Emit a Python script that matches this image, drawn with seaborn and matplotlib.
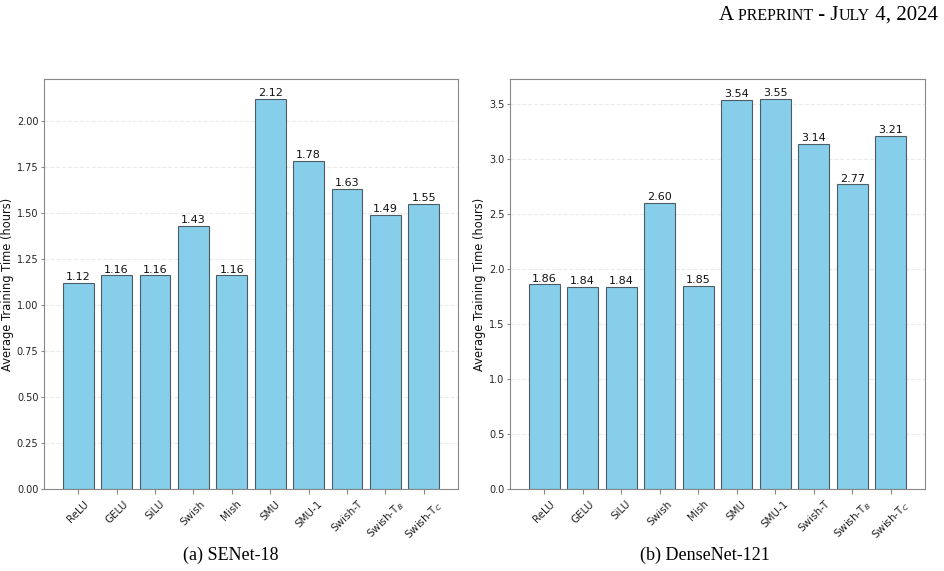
import pandas as pd
import matplotlib
matplotlib.use('Agg')
import matplotlib.pyplot as plt
import seaborn as sns

# activation functions and average training time (hours)
activations = ['ReLU', 'GELU', 'SiLU', 'Swish', 'Mish', 'SMU', 'SMU-1',
               'Swish-T', 'Swish-T$_B$', 'Swish-T$_C$']
senet18_hours = [1.12, 1.16, 1.16, 1.43, 1.16, 2.12, 1.78, 1.63, 1.49, 1.55]
densenet121_hours = [1.86, 1.84, 1.84, 2.60, 1.85, 3.54, 3.55, 3.14, 2.77, 3.21]
captions = ['(a) SENet-18', '(b) DenseNet-121']

plt.rcParams['font.family'] = ['DejaVu Sans']
plt.rcParams['axes.edgecolor'] = '#888888'
plt.rcParams['xtick.color'] = '#888888'
plt.rcParams['ytick.color'] = '#888888'
plt.rcParams['xtick.labelcolor'] = '#222222'
plt.rcParams['ytick.labelcolor'] = '#222222'

fig = plt.figure(figsize=(9.44, 5.71), dpi=100)
W, H = 944, 571
# axes boxes in pixels: left, right
boxes = [(44, 458), (510, 925)]
top, bottom = 79, 489
caption_x = [231, 705]

for (x0, x1), hours, cap, cx in zip(boxes, [senet18_hours, densenet121_hours], captions, caption_x):
    ax = fig.add_axes([x0 / W, (H - bottom) / H, (x1 - x0) / W, (bottom - top) / H])
    df = pd.DataFrame({'act': activations, 'hours': hours})
    sns.barplot(data=df, x='act', y='hours', ax=ax, color='#87CEEB', saturation=1,
                edgecolor=(0, 0, 0, 0.6), linewidth=0.8, width=0.8, errorbar=None)
    ax.bar_label(ax.containers[0], fmt='{:.2f}', fontsize=8, padding=0.5, color='#111111')
    ax.set_xlim(-0.89, 9.89)
    ax.set_ylim(0, max(hours) * 1.05)
    ax.set_axisbelow(True)
    ax.grid(axis='y', linestyle='--', alpha=0.25)
    ax.set_xlabel('')
    ax.set_ylabel('Average Training Time (hours)', fontsize=8.3, color='#111111', labelpad=2)
    ax.tick_params(axis='x', labelrotation=45, labelsize=7.5)
    ax.tick_params(axis='y', labelsize=7, length=2.5, pad=1.5)
    fig.text(cx / W, (H - 555) / H, cap, ha='center', va='center',
             fontsize=13, family='Liberation Serif')

# header in small caps
pieces = [('A', 15), (' PREPRINT', 11.5), (' - J', 15), ('ULY', 11.5), (' 4, 2024', 15)]
fig.canvas.draw()
renderer = fig.canvas.get_renderer()
widths = []
for s, size in pieces:
    t = fig.text(0, 0, s, fontsize=size, family='Liberation Serif')
    widths.append(t.get_window_extent(renderer).width)
    t.remove()
x = 938 - sum(widths)
for (s, size), w in zip(pieces, widths):
    fig.text(x / W, (H - 20) / H, s, fontsize=size, family='Liberation Serif',
             ha='left', va='baseline')
    x += w

fig.savefig('out.png', dpi=100)
